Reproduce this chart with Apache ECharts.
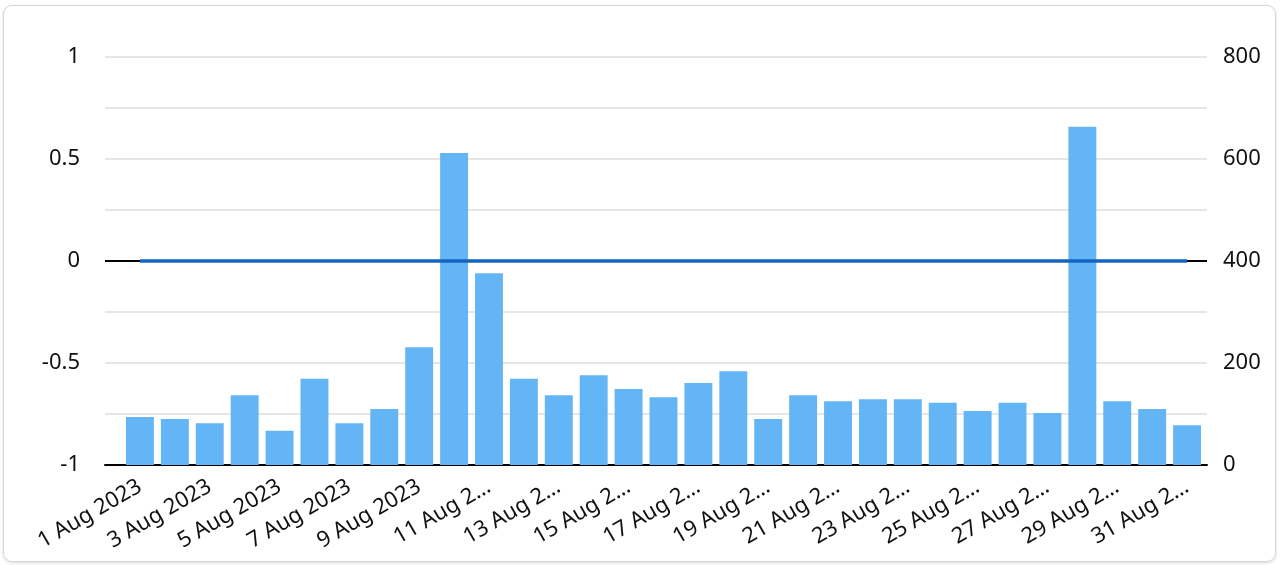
<!DOCTYPE html>
<html>
<head>
<meta charset="utf-8">
<script src="https://cdn.jsdelivr.net/npm/echarts@6/dist/echarts.min.js"></script>
<style>
  html, body { margin: 0; padding: 0; background: #fff; }
  #box { position: absolute; left: 3px; top: 5px; width: 1273px; height: 557px; border: 1px solid #d6d6d6; border-radius: 9px; box-shadow: 0 1px 3px rgba(0,0,0,0.15); box-sizing: border-box; }
  #chart { position: absolute; left: 0; top: 0; width: 1280px; height: 565px; }
</style>
</head>
<body>
<div id="box"></div>
<div id="chart"></div>
<script>
const categories = ['1 Aug 2023','2 Aug 2023','3 Aug 2023','4 Aug 2023','5 Aug 2023','6 Aug 2023','7 Aug 2023','8 Aug 2023','9 Aug 2023','10 Aug 2023','11 Aug 2023','12 Aug 2023','13 Aug 2023','14 Aug 2023','15 Aug 2023','16 Aug 2023','17 Aug 2023','18 Aug 2023','19 Aug 2023','20 Aug 2023','21 Aug 2023','22 Aug 2023','23 Aug 2023','24 Aug 2023','25 Aug 2023','26 Aug 2023','27 Aug 2023','28 Aug 2023','29 Aug 2023','30 Aug 2023','31 Aug 2023'];
const barValues = [94, 90, 82, 137, 67, 169, 82, 110, 231, 612, 376, 169, 137, 176, 149, 133, 161, 184, 90, 137, 125, 129, 129, 122, 106, 122, 102, 663, 125, 110, 78];
const lineValues = [0,0,0,0,0,0,0,0,0,0,0,0,0,0,0,0,0,0,0,0,0,0,0,0,0,0,0,0,0,0,0];
const leftTicks = { min: -1, max: 1, interval: 0.5 };
const rightTicks = { min: 0, max: 800, interval: 200 };

const chart = echarts.init(document.getElementById('chart'), null, { renderer: 'canvas' });
const font = 'Noto Sans';
chart.setOption({
  animation: false,
  grid: [
    { left: 105, right: 73, top: 57, bottom: 100, containLabel: false },
    { left: 122.5, right: 75.5, top: 57, bottom: 100, containLabel: false }
  ],
  xAxis: [
    {
      gridIndex: 0, type: 'category', data: categories,
      axisTick: { show: false }, axisLabel: { show: false },
      axisLine: { onZero: false, lineStyle: { color: '#000', width: 2 } }
    },
    {
      gridIndex: 1, type: 'category', data: categories,
      axisTick: { show: false }, axisLine: { show: false },
      axisLabel: {
        interval: 1, rotate: 30, color: '#111', fontFamily: font, fontSize: 22, margin: 20,
        formatter: v => (v.length > 10 ? v.slice(0, 8) + '…' : v)
      }
    }
  ],
  yAxis: [
    {
      gridIndex: 0, type: 'value', min: leftTicks.min, max: leftTicks.max, interval: leftTicks.interval,
      position: 'left',
      axisLine: { show: false }, axisTick: { show: false }, splitLine: { show: false },
      axisLabel: { color: '#111', fontFamily: font, fontSize: 22, margin: 25 }
    },
    {
      gridIndex: 0, type: 'value', min: rightTicks.min, max: rightTicks.max, interval: rightTicks.interval,
      position: 'right',
      axisLine: { show: false }, axisTick: { show: false },
      splitLine: { show: true, lineStyle: { color: '#e6e6e6', width: 2 } },
      minorTick: { show: false, splitNumber: 2 },
      minorSplitLine: { show: true, lineStyle: { color: '#e6e6e6', width: 2 } },
      axisLabel: { color: '#111', fontFamily: font, fontSize: 22, margin: 16 }
    },
    { gridIndex: 1, type: 'value', min: rightTicks.min, max: rightTicks.max, show: false, splitLine: { show: false } },
    { gridIndex: 1, type: 'value', min: leftTicks.min, max: leftTicks.max, show: false, splitLine: { show: false } }
  ],
  series: [
    {
      type: 'line', xAxisIndex: 0, yAxisIndex: 0, data: lineValues,
      symbol: 'none', lineStyle: { opacity: 0 }, silent: true, z: 1, zlevel: 0,
      markLine: {
        silent: true, symbol: 'none', label: { show: false }, z: 1,
        lineStyle: { color: '#000', width: 2, type: 'solid' },
        data: [{ yAxis: 0 }]
      }
    },
    {
      type: 'bar', xAxisIndex: 1, yAxisIndex: 2, data: barValues,
      barCategoryGap: '20%',
      itemStyle: { color: '#64b5f6' }, z: 2
    },
    {
      type: 'line', xAxisIndex: 1, yAxisIndex: 3, data: lineValues,
      symbol: 'none', lineStyle: { color: '#1565c0', width: 3.5 }, z: 20
    }
  ]
});
</script>
</body>
</html>
